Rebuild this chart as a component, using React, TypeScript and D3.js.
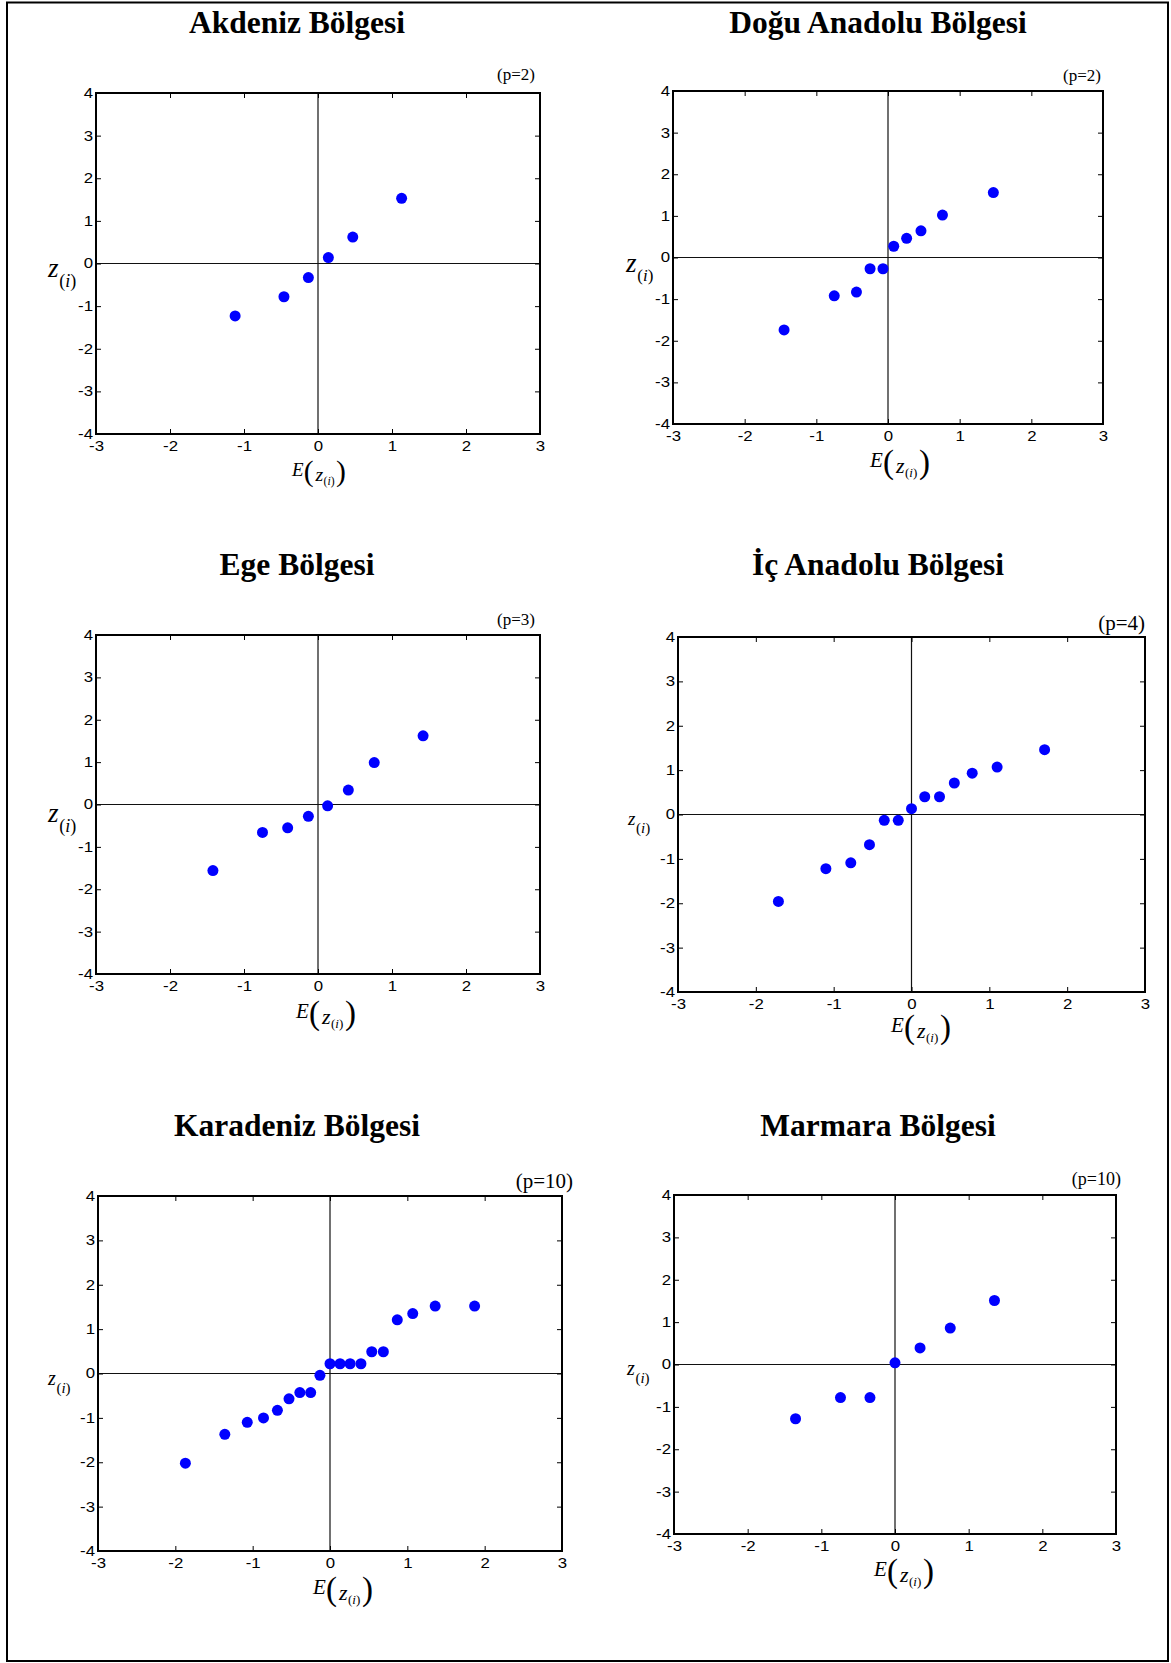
import React, { useEffect, useRef } from 'react';
import * as d3 from 'd3';

// Normal probability plots, one per region
const regionNames = [
  'Akdeniz Bölgesi',
  'Doğu Anadolu Bölgesi',
  'Ege Bölgesi',
  'İç Anadolu Bölgesi',
  'Karadeniz Bölgesi',
  'Marmara Bölgesi',
];
const pLabels = ['(p=2)', '(p=2)', '(p=3)', '(p=4)', '(p=10)', '(p=10)'];

const xTicks = [-3, -2, -1, 0, 1, 2, 3];
const yTicks = [-4, -3, -2, -1, 0, 1, 2, 3, 4];

// E(z(i)) and z(i) per region
const akdenizE = [-1.12, -0.46, -0.13, 0.14, 0.47, 1.13];
const akdenizZ = [-1.23, -0.78, -0.33, 0.14, 0.62, 1.53];
const doguE = [-1.45, -0.75, -0.44, -0.25, -0.07, 0.08, 0.26, 0.46, 0.76, 1.47];
const doguZ = [-1.74, -0.92, -0.83, -0.27, -0.27, 0.27, 0.46, 0.64, 1.02, 1.56];
const egeE = [-1.42, -0.75, -0.41, -0.13, 0.13, 0.41, 0.76, 1.42];
const egeZ = [-1.56, -0.66, -0.55, -0.28, -0.03, 0.34, 0.99, 1.62];
const icE = [-1.71, -1.1, -0.78, -0.54, -0.35, -0.17, 0, 0.17, 0.36, 0.55, 0.78, 1.1, 1.71];
const icZ = [-1.96, -1.22, -1.09, -0.68, -0.13, -0.13, 0.13, 0.4, 0.4, 0.71, 0.93, 1.07, 1.46];
const karadenizE = [-1.87, -1.36, -1.07, -0.86, -0.68, -0.53, -0.39, -0.25, -0.13, 0, 0.13, 0.26, 0.4, 0.54, 0.69, 0.87, 1.07, 1.36, 1.87];
const karadenizZ = [-2.02, -1.37, -1.1, -1.0, -0.83, -0.57, -0.43, -0.43, -0.04, 0.22, 0.22, 0.22, 0.22, 0.49, 0.49, 1.21, 1.35, 1.52, 1.52];
const marmaraE = [-1.35, -0.74, -0.34, 0, 0.34, 0.75, 1.35];
const marmaraZ = [-1.28, -0.78, -0.78, 0.04, 0.39, 0.86, 1.51];

const seriesE = [akdenizE, doguE, egeE, icE, karadenizE, marmaraE];
const seriesZ = [akdenizZ, doguZ, egeZ, icZ, karadenizZ, marmaraZ];

// page layout for each panel (pixels)
const layout = [
  { l: 96, r: 540, t: 93, b: 434, tx: 297, ty: 33, px: 535, py: 80, ps: 17, zx: 48, zy: 277, zs: 27, ss: 18, ex: 292, ey: 476, es: 0.9 },
  { l: 673, r: 1103, t: 91, b: 424, tx: 878, ty: 33, px: 1101, py: 81, ps: 17, zx: 626, zy: 272, zs: 27, ss: 17, ex: 870, ey: 467, es: 1 },
  { l: 96, r: 540, t: 635, b: 974, tx: 297, ty: 575, px: 535, py: 625, ps: 17, zx: 48, zy: 822, zs: 27, ss: 18, ex: 296, ey: 1018, es: 1 },
  { l: 678, r: 1145, t: 637, b: 992, tx: 878, ty: 575, px: 1145, py: 630, ps: 21, zx: 628, zy: 825, zs: 19, ss: 15, ex: 891, ey: 1032, es: 1 },
  { l: 98, r: 562, t: 1196, b: 1551, tx: 297, ty: 1136, px: 573, py: 1188, ps: 21, zx: 48, zy: 1385, zs: 20, ss: 15, ex: 313, ey: 1594, es: 1 },
  { l: 674, r: 1116, t: 1195, b: 1534, tx: 878, ty: 1136, px: 1121, py: 1185, ps: 18, zx: 627, zy: 1375, zs: 20, ss: 15, ex: 874, ey: 1576, es: 1 },
];

const SERIF = '"Liberation Serif", "Times New Roman", Times, serif';
const SANS = '"Liberation Sans", Arial, Helvetica, sans-serif';

const App = () => {
  const svgRef = useRef<SVGSVGElement>(null);

  useEffect(() => {
    const svg = d3.select(svgRef.current);
    svg.selectAll('*').remove();

    // page frame
    svg.append('rect')
      .attr('x', 7).attr('y', 2.5)
      .attr('width', 1161).attr('height', 1658.5)
      .attr('fill', 'none').attr('stroke', '#000').attr('stroke-width', 2);

    const fmt = (d: any) => String(d);

    layout.forEach((L, i) => {
      const x = d3.scaleLinear().domain([-3, 3]).range([L.l, L.r]);
      const y = d3.scaleLinear().domain([-4, 4]).range([L.b, L.t]);
      const g = svg.append('g');

      // title
      g.append('text')
        .attr('x', L.tx).attr('y', L.ty)
        .attr('text-anchor', 'middle')
        .attr('font-family', SERIF).attr('font-weight', 'bold').attr('font-size', 31.5)
        .text(regionNames[i]);

      // p label
      g.append('text')
        .attr('x', L.px).attr('y', L.py)
        .attr('text-anchor', 'end')
        .attr('font-family', SERIF).attr('font-size', L.ps)
        .text(pLabels[i]);

      // zero lines
      g.append('line')
        .attr('x1', x(-3)).attr('x2', x(3)).attr('y1', y(0)).attr('y2', y(0))
        .attr('stroke', '#111').attr('stroke-width', 1.2);
      g.append('line')
        .attr('x1', x(0)).attr('x2', x(0)).attr('y1', y(-4)).attr('y2', y(4))
        .attr('stroke', '#111').attr('stroke-width', 1.2);

      // axes, ticks pointing inside on all four sides
      g.append('g').attr('transform', `translate(0,${L.b})`)
        .call(d3.axisBottom(x).tickValues(xTicks).tickSize(-5).tickPadding(7).tickFormat(fmt));
      g.append('g').attr('transform', `translate(0,${L.t})`)
        .call(d3.axisTop(x).tickValues(xTicks).tickSize(-5).tickFormat(() => ''));
      g.append('g').attr('transform', `translate(${L.l},0)`)
        .call(d3.axisLeft(y).tickValues(yTicks).tickSize(-5).tickPadding(3).tickFormat(fmt));
      g.append('g').attr('transform', `translate(${L.r},0)`)
        .call(d3.axisRight(y).tickValues(yTicks).tickSize(-5).tickFormat(() => ''));

      g.selectAll('.domain').remove();
      g.selectAll('.tick line').attr('stroke', '#000');
      g.selectAll<SVGTextElement, unknown>('.tick text')
        .attr('font-family', SANS).attr('font-size', 14).attr('fill', '#000')
        .each(function () {
          // the reference labels are a little wider than plain Arial
          const w = this.getComputedTextLength();
          if (w > 0) {
            d3.select(this).attr('textLength', w * 1.2).attr('lengthAdjust', 'spacingAndGlyphs');
          }
        });

      // box
      g.append('rect')
        .attr('x', L.l).attr('y', L.t)
        .attr('width', L.r - L.l).attr('height', L.b - L.t)
        .attr('fill', 'none').attr('stroke', '#000').attr('stroke-width', 2);

      // points
      const pts = d3.zip(seriesE[i], seriesZ[i]);
      g.selectAll('circle.pt')
        .data(pts)
        .join('circle')
        .attr('class', 'pt')
        .attr('cx', d => x(d[0]))
        .attr('cy', d => y(d[1]))
        .attr('r', 5.5)
        .attr('fill', '#0000ff');

      // y label  z_(i)
      const yl = g.append('text').attr('font-family', SERIF).attr('fill', '#000');
      yl.append('tspan').attr('x', L.zx).attr('y', L.zy)
        .attr('font-style', 'italic').attr('font-size', L.zs).text('z');
      const sx = L.zx + L.zs * 0.42;
      const sy = L.zy + L.ss * 0.55;
      yl.append('tspan').attr('x', sx).attr('y', sy).attr('font-size', L.ss).text('(');
      yl.append('tspan').attr('font-style', 'italic').attr('font-size', L.ss).text('i');
      yl.append('tspan').attr('font-size', L.ss).text(')');

      // x label  E( z_(i) )
      const k = L.es;
      const xl = g.append('text').attr('font-family', SERIF).attr('fill', '#000');
      xl.append('tspan').attr('x', L.ex).attr('y', L.ey)
        .attr('font-style', 'italic').attr('font-size', 21 * k).text('E');
      xl.append('tspan').attr('x', L.ex + 13 * k).attr('y', L.ey + 6 * k)
        .attr('font-size', 33 * k).text('(');
      xl.append('tspan').attr('x', L.ex + 26 * k).attr('y', L.ey + 6 * k)
        .attr('font-style', 'italic').attr('font-size', 22 * k).text('z');
      xl.append('tspan').attr('x', L.ex + 35 * k).attr('y', L.ey + 10 * k)
        .attr('font-size', 13 * k).text('(');
      xl.append('tspan').attr('font-style', 'italic').attr('font-size', 13 * k).text('i');
      xl.append('tspan').attr('font-size', 13 * k).text(')');
      xl.append('tspan').attr('x', L.ex + 49 * k).attr('y', L.ey + 6 * k)
        .attr('font-size', 33 * k).text(')');
    });
  }, []);

  return (
    <>
      <style>{'body{margin:0;background:#fff}'}</style>
      <svg ref={svgRef} width={1171} height={1663} style={{ display: 'block' }} />
    </>
  );
};

export default App;
